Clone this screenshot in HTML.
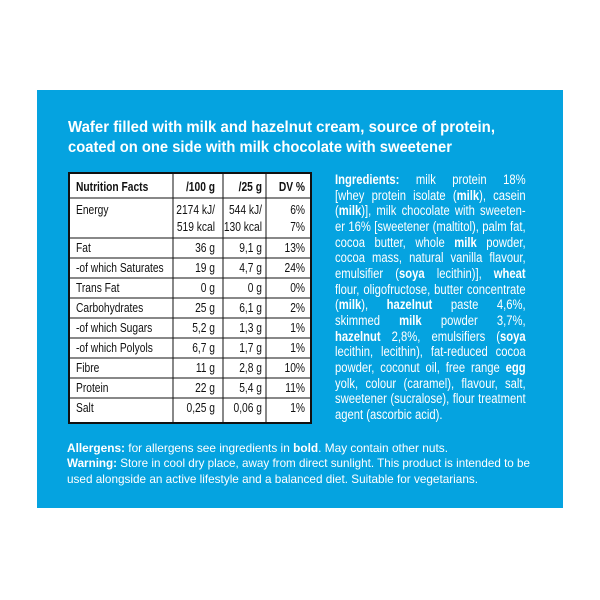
<!DOCTYPE html>
<html><head><meta charset="utf-8"><style>
html,body{margin:0;padding:0;background:#fff;width:600px;height:600px;overflow:hidden;position:relative}
svg{display:block}
text{font-family:"Liberation Sans",sans-serif}
.w{fill:#fff}
.t{fill:#111;font-size:12.5px}
.b{font-weight:bold}
#ing{position:absolute;left:335px;top:172px;width:227px;transform:scaleX(0.84);transform-origin:0 0;color:#fff;font-family:"Liberation Sans",sans-serif;font-size:13.4px;line-height:15.65px}
#ing div{white-space:nowrap;text-align:justify;text-align-last:justify}
#ing div.l{text-align-last:left}
</style></head><body>
<svg width="600" height="600" viewBox="0 0 600 600">
<rect x="0" y="0" width="600" height="600" fill="#fff"/>
<rect x="37" y="90" width="526" height="418" fill="#05a3e0"/>
<text class="w b" x="68" y="132" font-size="15.5" textLength="427" lengthAdjust="spacingAndGlyphs">Wafer filled with milk and hazelnut cream, source of protein,</text>
<text class="w b" x="68" y="152" font-size="15.5" textLength="384" lengthAdjust="spacingAndGlyphs">coated on one side with milk chocolate with sweetener</text>

<rect x="69" y="173" width="242" height="250" fill="#fff" stroke="#111" stroke-width="2"/>
<g stroke="#111" stroke-width="1">
<line x1="173" y1="173" x2="173" y2="423"/>
<line x1="223" y1="173" x2="223" y2="423"/>
<line x1="266" y1="173" x2="266" y2="423"/>
<line x1="69" y1="198" x2="311" y2="198"/>
<line x1="69" y1="238" x2="311" y2="238"/>
<line x1="69" y1="258" x2="311" y2="258"/>
<line x1="69" y1="278" x2="311" y2="278"/>
<line x1="69" y1="298" x2="311" y2="298"/>
<line x1="69" y1="318" x2="311" y2="318"/>
<line x1="69" y1="338" x2="311" y2="338"/>
<line x1="69" y1="358" x2="311" y2="358"/>
<line x1="69" y1="378" x2="311" y2="378"/>
<line x1="69" y1="398" x2="311" y2="398"/>
</g>
<g class="t" transform="scale(0.82,1)">
<text class="b" x="92.7" y="191">Nutrition Facts</text>
<text class="b" x="262.2" y="191" text-anchor="end">/100 g</text>
<text class="b" x="319.5" y="191" text-anchor="end">/25 g</text>
<text class="b" x="372" y="191" text-anchor="end">DV %</text>
<text x="92.7" y="214">Energy</text>
<text x="262.2" y="214" text-anchor="end">2174 kJ/</text>
<text x="319.5" y="214" text-anchor="end">544 kJ/</text>
<text x="372" y="214" text-anchor="end">6%</text>
<text x="262.2" y="231" text-anchor="end">519 kcal</text>
<text x="319.5" y="231" text-anchor="end">130 kcal</text>
<text x="372" y="231" text-anchor="end">7%</text>
<text x="92.7" y="252">Fat</text><text x="262.2" y="252" text-anchor="end">36 g</text><text x="319.5" y="252" text-anchor="end">9,1 g</text><text x="372" y="252" text-anchor="end">13%</text>
<text x="92.7" y="272">-of which Saturates</text><text x="262.2" y="272" text-anchor="end">19 g</text><text x="319.5" y="272" text-anchor="end">4,7 g</text><text x="372" y="272" text-anchor="end">24%</text>
<text x="92.7" y="292">Trans Fat</text><text x="262.2" y="292" text-anchor="end">0 g</text><text x="319.5" y="292" text-anchor="end">0 g</text><text x="372" y="292" text-anchor="end">0%</text>
<text x="92.7" y="312">Carbohydrates</text><text x="262.2" y="312" text-anchor="end">25 g</text><text x="319.5" y="312" text-anchor="end">6,1 g</text><text x="372" y="312" text-anchor="end">2%</text>
<text x="92.7" y="332">-of which Sugars</text><text x="262.2" y="332" text-anchor="end">5,2 g</text><text x="319.5" y="332" text-anchor="end">1,3 g</text><text x="372" y="332" text-anchor="end">1%</text>
<text x="92.7" y="352">-of which Polyols</text><text x="262.2" y="352" text-anchor="end">6,7 g</text><text x="319.5" y="352" text-anchor="end">1,7 g</text><text x="372" y="352" text-anchor="end">1%</text>
<text x="92.7" y="372">Fibre</text><text x="262.2" y="372" text-anchor="end">11 g</text><text x="319.5" y="372" text-anchor="end">2,8 g</text><text x="372" y="372" text-anchor="end">10%</text>
<text x="92.7" y="392">Protein</text><text x="262.2" y="392" text-anchor="end">22 g</text><text x="319.5" y="392" text-anchor="end">5,4 g</text><text x="372" y="392" text-anchor="end">11%</text>
<text x="92.7" y="412">Salt</text><text x="262.2" y="412" text-anchor="end">0,25 g</text><text x="319.5" y="412" text-anchor="end">0,06 g</text><text x="372" y="412" text-anchor="end">1%</text>
</g>

<g class="w" font-size="12">
<text x="67" y="452" textLength="381" lengthAdjust="spacingAndGlyphs"><tspan class="b">Allergens:</tspan> for allergens see ingredients in <tspan class="b">bold</tspan>. May contain other nuts.</text>
<text x="67" y="467" textLength="463" lengthAdjust="spacingAndGlyphs"><tspan class="b">Warning:</tspan> Store in cool dry place, away from direct sunlight. This product is intended to be</text>
<text x="67" y="483" textLength="411" lengthAdjust="spacingAndGlyphs">used alongside an active lifestyle and a balanced diet. Suitable for vegetarians.</text>
</g>
</svg>
<div id="ing">
<div><b>Ingredients:</b> milk protein 18%</div>
<div>[whey protein isolate (<b>milk</b>), casein</div>
<div>(<b>milk</b>)], milk chocolate with sweeten-</div>
<div>er 16% [sweetener (maltitol), palm fat,</div>
<div>cocoa butter, whole <b>milk</b> powder,</div>
<div>cocoa mass, natural vanilla flavour,</div>
<div>emulsifier (<b>soya</b> lecithin)], <b>wheat</b></div>
<div>flour, oligofructose, butter concentrate</div>
<div>(<b>milk</b>), <b>hazelnut</b> paste 4,6%,</div>
<div>skimmed <b>milk</b> powder 3,7%,</div>
<div><b>hazelnut</b> 2,8%, emulsifiers (<b>soya</b></div>
<div>lecithin, lecithin), fat-reduced cocoa</div>
<div>powder, coconut oil, free range <b>egg</b></div>
<div>yolk, colour (caramel), flavour, salt,</div>
<div>sweetener (sucralose), flour treatment</div>
<div class="l">agent (ascorbic acid).</div>
</div>
</body></html>
